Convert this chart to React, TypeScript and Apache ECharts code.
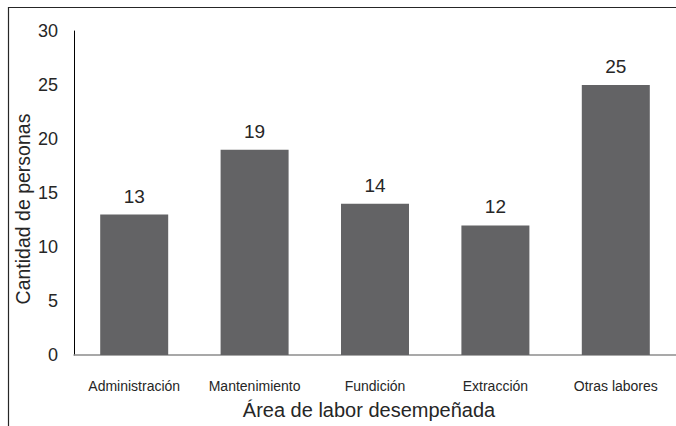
import React, { useEffect, useRef } from "react";
import * as echarts from "echarts";

const categories = ["Administración", "Mantenimiento", "Fundición", "Extracción", "Otras labores"];
const values = [13, 19, 14, 12, 25];
const yTicks = { min: 0, max: 30, interval: 5 };
const xTitle = "Área de labor desempeñada";
const yTitle = "Cantidad de personas";

export default function App() {
  const ref = useRef<HTMLDivElement>(null);
  useEffect(() => {
    if (!ref.current) return;
    const chart = echarts.init(ref.current, null, { renderer: "svg" });
    const font = "'Liberation Sans', Arial, sans-serif";
    chart.setOption({
      animation: false,
      backgroundColor: "#ffffff",
      textStyle: { fontFamily: font },
      grid: { left: 74, right: 0, top: 31, bottom: 71, containLabel: false },
      xAxis: {
        type: "category",
        data: categories,
        axisLine: { show: true, lineStyle: { color: "#8c8c8c", width: 1.5 } },
        axisTick: { show: false },
        axisLabel: { color: "#262626", fontSize: 14, margin: 24, fontFamily: font, interval: 0 },
        name: xTitle,
        nameLocation: "middle",
        nameGap: 45,
        nameTextStyle: { color: "#262626", fontSize: 20, fontFamily: font, padding: [0, 12, 0, 0] },
      },
      yAxis: {
        type: "value",
        min: yTicks.min,
        max: yTicks.max,
        interval: yTicks.interval,
        axisLine: { show: true, lineStyle: { color: "#000000", width: 1 } },
        axisTick: { show: false },
        splitLine: { show: false },
        axisLabel: { color: "#262626", fontSize: 18, margin: 16, fontFamily: font },
      },
      graphic: [
        {
          type: "text",
          x: 22.5,
          y: 209,
          rotation: Math.PI / 2,
          style: {
            text: yTitle,
            fontSize: 19.5,
            fontFamily: font,
            fill: "#262626",
            textAlign: "center",
            textVerticalAlign: "middle",
          },
        },
        {
          type: "polyline",
          shape: { points: [[8.5, 430], [8.5, 7.5], [680, 7.5]] },
          style: { stroke: "#262626", lineWidth: 1.2, fill: null },
        },
      ],
      series: [
        {
          type: "bar",
          data: values,
          barWidth: 68,
          itemStyle: { color: "#636365" },
          label: {
            show: true,
            position: "top",
            distance: 9,
            color: "#262626",
            fontSize: 19,
            fontFamily: font,
          },
        },
      ],
    });
    return () => chart.dispose();
  }, []);
  return (
    <div
      ref={ref}
      style={{ position: "fixed", left: 0, top: 0, width: 676, height: 426, background: "#fff" }}
    />
  );
}
